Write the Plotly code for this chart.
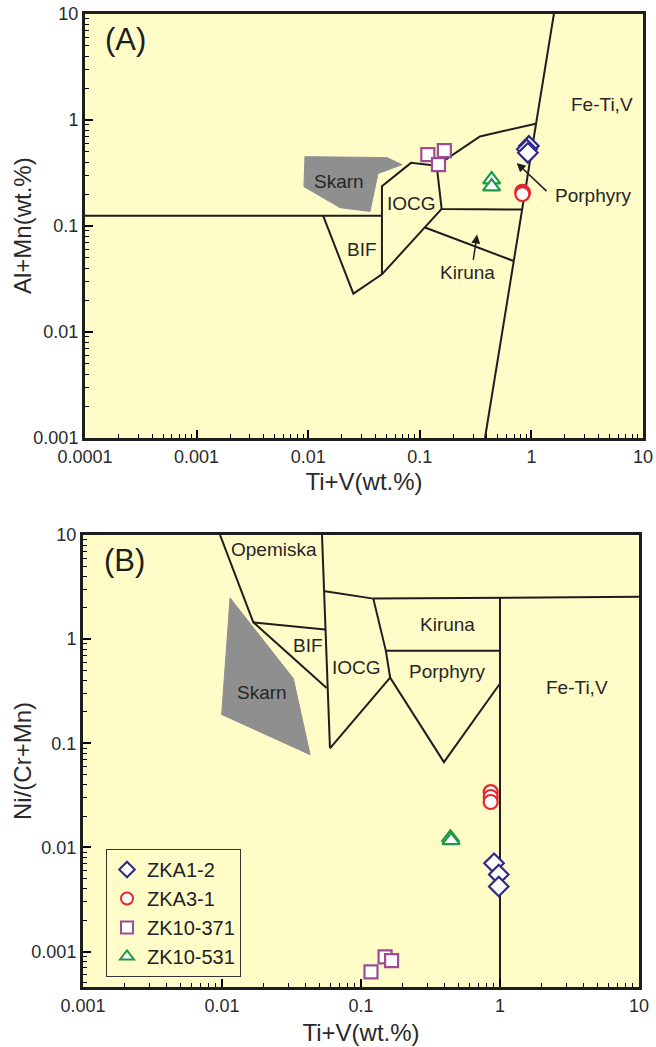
import numpy as np
import plotly.graph_objects as go

# ---------------- sample data (wt.%) ----------------
# Panel A: Ti+V vs Al+Mn
a_zka12_x = [0.95, 0.91, 0.93]
a_zka12_y = [0.57, 0.53, 0.49]
a_zka31_x = [0.83, 0.84, 0.83]
a_zka31_y = [0.21, 0.205, 0.20]
a_zk10371_x = [0.118, 0.166, 0.147]
a_zk10371_y = [0.471, 0.514, 0.379]
a_zk10531_x = [0.44, 0.44]
a_zk10531_y = [0.274, 0.235]

# Panel B: Ti+V vs Ni/(Cr+Mn)
b_zka12_x = [0.906, 0.98, 0.98]
b_zka12_y = [0.00706, 0.0055, 0.00422]
b_zka31_x = [0.857, 0.857, 0.857]
b_zka31_y = [0.034, 0.0305, 0.0273]
b_zk10371_x = [0.118, 0.149, 0.166]
b_zk10371_y = [0.00064, 0.00089, 0.00082]
b_zk10531_x = [0.44, 0.445]
b_zk10531_y = [0.0124, 0.0117]

series_names = ["ZKA1-2", "ZKA3-1", "ZK10-371", "ZK10-531"]

# ---------------- field boundaries ----------------
# Panel A (Ti+V, Al+Mn)
a_fields = [
    [(1e-4, 0.125), (0.0458, 0.125)],
    [(1.59, 10), (0.384, 0.001)],
    [(0.0136, 0.125), (0.0254, 0.023), (0.0458, 0.035), (0.0458, 0.237),
     (0.0834, 0.394), (0.1416, 0.371), (0.346, 0.70), (1.093, 0.922)],
    [(0.1416, 0.371), (0.157, 0.145), (0.827, 0.143)],
    [(0.0458, 0.035), (0.157, 0.145)],
    [(0.1114, 0.0968), (0.695, 0.0467)],
]
a_skarn = [(0.00935, 0.451), (0.0508, 0.442), (0.0693, 0.379), (0.0422, 0.312),
           (0.0358, 0.137), (0.0193, 0.149), (0.00916, 0.235)]

# Panel B (Ti+V, Ni/(Cr+Mn))
b_fields = [
    [(0.00968, 10), (0.0168, 1.45), (0.0566, 0.34)],
    [(0.0168, 1.45), (0.0551, 1.24)],
    [(0.0524, 10), (0.0598, 0.0895)],
    [(0.0551, 2.89), (0.1226, 2.45), (10, 2.55)],
    [(0.1226, 2.45), (0.151, 0.772), (0.162, 0.428), (0.395, 0.066), (1.0, 0.375)],
    [(0.151, 0.772), (1.0, 0.772)],
    [(1.0, 2.5), (1.0, 0.00046)],
    [(0.0598, 0.0895), (0.162, 0.428)],
]
b_skarn = [(0.01143, 2.49), (0.0326, 0.419), (0.043, 0.0778), (0.00995, 0.189)]

# Field labels: (text, x, y)
a_labels = [("Skarn", 0.0189, 0.262), ("IOCG", 0.0845, 0.163), ("BIF", 0.0301, 0.060),
            ("Kiruna", 0.270, 0.0365), ("Porphyry", 3.61, 0.194), ("Fe-Ti,V", 4.3, 1.41)]
b_labels = [("Opemiska", 0.0237, 7.33), ("BIF", 0.0416, 0.875), ("IOCG", 0.0935, 0.538),
            ("Kiruna", 0.416, 1.39), ("Porphyry", 0.416, 0.492), ("Fe-Ti,V", 3.58, 0.345),
            ("Skarn", 0.0194, 0.309)]

# Arrows pointing into the small Porphyry and Kiruna fields: (tail, head)
a_arrows = [((1.41, 0.207), (0.738, 0.394)),
            ((0.300, 0.0463), (0.326, 0.0832))]

colors = ["#2D2A87", "#E8262B", "#9C4C94", "#1F9B48"]
symbols = ["diamond", "circle", "square", "triangle-up"]
sizes = [15, 14, 13, 15]

FONT = "Arial, Liberation Sans, sans-serif"
INK = "#1e1e1e"
TXT = "#2a2a2a"
BG = "#FFFCC8"

fig = go.Figure()


def add_fields(fields, skarn, xa, ya):
    sx, sy = zip(*(skarn + [skarn[0]]))
    fig.add_trace(go.Scatter(x=sx, y=sy, mode="lines", fill="toself",
                             fillcolor="#8F8F8F", line=dict(color="#8F8F8F", width=1),
                             xaxis=xa, yaxis=ya, showlegend=False, hoverinfo="skip"))
    for seg in fields:
        fx, fy = zip(*seg)
        fig.add_trace(go.Scatter(x=fx, y=fy, mode="lines",
                                 line=dict(color=INK, width=2),
                                 xaxis=xa, yaxis=ya, showlegend=False, hoverinfo="skip"))


def add_samples(xs, ys, xa, ya, legend):
    for i, (x, y) in enumerate(zip(xs, ys)):
        fig.add_trace(go.Scatter(
            x=x, y=y, mode="markers", name=series_names[i],
            marker=dict(symbol=symbols[i], size=sizes[i],
                        color="white", line=dict(color=colors[i], width=2.2)),
            xaxis=xa, yaxis=ya, showlegend=legend))


# Field diagram on the main axes, samples on the overlaid tick axes (drawn on top)
add_fields(a_fields, a_skarn, "x", "y")
add_fields(b_fields, b_skarn, "x2", "y2")
add_samples([a_zka12_x, a_zka31_x, a_zk10371_x, a_zk10531_x],
            [a_zka12_y, a_zka31_y, a_zk10371_y, a_zk10531_y], "x3", "y3", False)
add_samples([b_zka12_x, b_zka31_x, b_zk10371_x, b_zk10531_x],
            [b_zka12_y, b_zka31_y, b_zk10371_y, b_zk10531_y], "x4", "y4", True)

# Field names
for labels, xr, yr in [(a_labels, "x", "y"), (b_labels, "x2", "y2")]:
    for t, x, y in labels:
        fig.add_annotation(text=t, x=np.log10(x), y=np.log10(y), xref=xr, yref=yr,
                           showarrow=False, font=dict(family=FONT, size=19, color="#262626"))

for (tx, ty), (hx, hy) in a_arrows:
    fig.add_annotation(x=np.log10(hx), y=np.log10(hy), ax=np.log10(tx), ay=np.log10(ty),
                       xref="x", yref="y", axref="x", ayref="y", text="",
                       showarrow=True, arrowhead=2, arrowsize=1.2, arrowwidth=1.5,
                       arrowcolor=INK)

# Panel tags
fig.add_annotation(text="(A)", x=np.log10(2.3e-4), y=np.log10(5.7), xref="x", yref="y",
                   showarrow=False, font=dict(family=FONT, size=31, color=INK))
fig.add_annotation(text="(B)", x=np.log10(0.00199), y=np.log10(5.75), xref="x2", yref="y2",
                   showarrow=False, font=dict(family=FONT, size=31, color=INK))

W, H = 656, 1047
A_X = [85 / W, 643 / W]
A_Y = [1 - 438 / H, 1 - 14 / H]
B_X = [83 / W, 639 / W]
B_Y = [1 - 987 / H, 1 - 535 / H]

# Y-axis titles
for text, ymid in [("Al+Mn(wt.%)", sum(A_Y) / 2), ("Ni/(Cr+Mn)", sum(B_Y) / 2)]:
    fig.add_annotation(text=text, x=22 / W, y=ymid, xref="paper", yref="paper",
                       xanchor="center", yanchor="middle",
                       textangle=-90, showarrow=False,
                       font=dict(family=FONT, size=24, color=TXT))

# Pale-yellow plotting areas, laid beneath everything else
for xr, yr in [("x", "y"), ("x2", "y2")]:
    fig.add_shape(type="rect", xref=f"{xr} domain", yref=f"{yr} domain",
                  x0=0, x1=1, y0=0, y1=1, fillcolor=BG, line=dict(width=0),
                  layer="below")


def label_axis(rng, domain, anchor, title=None, standoff=8):
    ax = dict(
        type="log", range=rng, domain=domain, anchor=anchor,
        dtick=1, exponentformat="none", ticks="",
        showline=True, linecolor=INK, linewidth=3, mirror=True,
        showgrid=False, automargin=False,
        tickfont=dict(family=FONT, size=18, color=TXT),
    )
    if title:
        ax["title"] = dict(text=title, font=dict(family=FONT, size=24, color=TXT),
                           standoff=standoff)
    return ax


def tick_axis(rng, over, anchor, side):
    return dict(
        type="log", range=rng, overlaying=over, anchor=anchor, side=side,
        dtick=1, ticks="inside", ticklen=8, tickwidth=1.8, tickcolor="black",
        minor=dict(dtick="D1", ticks="inside", ticklen=4, tickwidth=1.4,
                   tickcolor="black"),
        showticklabels=False, showline=False, showgrid=False, automargin=False,
    )


fig.update_layout(
    width=W, height=H, margin=dict(l=0, r=0, t=0, b=0),
    paper_bgcolor="white", plot_bgcolor="rgba(0,0,0,0)",
    xaxis=label_axis([-4, 1], A_X, "y", "Ti+V(wt.%)", 8),
    yaxis=label_axis([-3, 1], A_Y, "x"),
    xaxis2=label_axis([-3, 1], B_X, "y2", "Ti+V(wt.%)", 10),
    yaxis2=label_axis([-3.34, 1], B_Y, "x2"),
    xaxis3=tick_axis([-4, 1], "x", "y", "bottom"),
    yaxis3=tick_axis([-3, 1], "y", "x", "left"),
    xaxis4=tick_axis([-3, 1], "x2", "y2", "bottom"),
    yaxis4=tick_axis([-3.34, 1], "y2", "x2", "left"),
    showlegend=True,
    legend=dict(x=106 / W, y=1 - 849 / H, xanchor="left", yanchor="top",
                bgcolor="rgba(0,0,0,0)", bordercolor="#333333", borderwidth=1,
                font=dict(family=FONT, size=20, color="#222222"),
                itemsizing="constant", tracegroupgap=0),
)

fig.write_html("out.html")
